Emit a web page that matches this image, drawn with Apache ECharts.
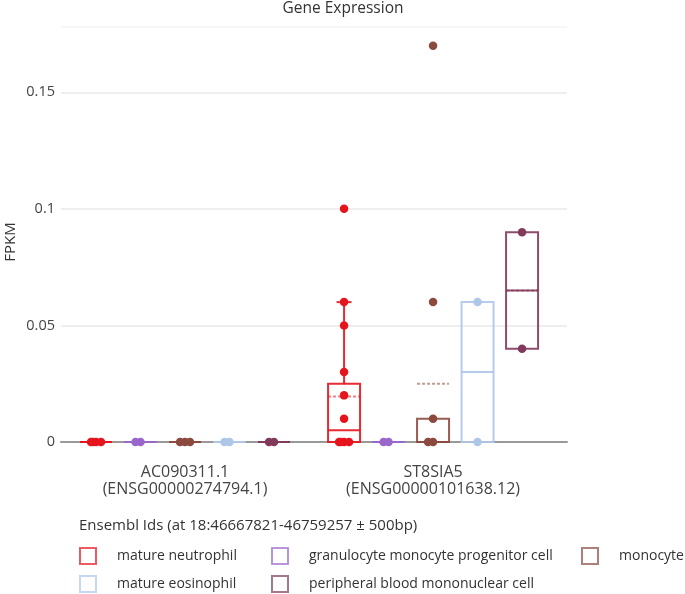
<!DOCTYPE html>
<html><head><meta charset="utf-8">
<script src="https://cdn.jsdelivr.net/npm/echarts@6/dist/echarts.min.js"></script>
<style>html,body{margin:0;padding:0;background:#fff}#c{width:685px;height:594px}</style>
</head><body><div id="c"></div>
<script>
// ---------- data ----------
const geneLabels = ['AC090311.1\n(ENSG00000274794.1)', 'ST8SIA5\n(ENSG00000101638.12)'];
const cellTypes = ['mature neutrophil', 'granulocyte monocyte progenitor cell', 'monocyte', 'mature eosinophil', 'peripheral blood mononuclear cell'];
const legendTitle = 'Ensembl Ids (at 18:46667821-46759257 \u00b1 500bp)';
const yAxisTitle = 'FPKM';
const yTicks = [0, 0.05, 0.1, 0.15];

// box stats per gene: [lowWhisker, q1, median, q3, highWhisker]
const neutrophilBox = [[0, 0, 0, 0, 0], [0, 0, 0.005, 0.025, 0.06]];
const gmpBox        = [[0, 0, 0, 0, 0], [0, 0, 0, 0, 0]];
const monocyteBox   = [[0, 0, 0, 0, 0], [0, 0, 0, 0.01, 0.01]];
const eosinophilBox = [[0, 0, 0, 0, 0], [0, 0, 0.03, 0.06, 0.06]];
const pbmcBox       = [[0, 0, 0, 0, 0], [0.04, 0.04, 0.065, 0.09, 0.09]];

// means per gene
const neutrophilMean = [0, 0.0195];
const gmpMean        = [0, 0];
const monocyteMean   = [0, 0.025];
const eosinophilMean = [0, 0.03];
const pbmcMean       = [0, 0.065];

// individual samples per gene
const neutrophilPoints = [[0, 0, 0, 0], [0, 0, 0, 0, 0.01, 0.02, 0.03, 0.05, 0.06, 0.1]];
const gmpPoints        = [[0, 0], [0, 0]];
const monocytePoints   = [[0, 0, 0], [0, 0, 0.01, 0.06, 0.17]];
const eosinophilPoints = [[0, 0], [0, 0.06]];
const pbmcPoints       = [[0, 0], [0.09, 0.04]];

const boxes  = [neutrophilBox, gmpBox, monocyteBox, eosinophilBox, pbmcBox];
const means  = [neutrophilMean, gmpMean, monocyteMean, eosinophilMean, pbmcMean];
const points = [neutrophilPoints, gmpPoints, monocytePoints, eosinophilPoints, pbmcPoints];

// ---------- style ----------
const colors = ['#e6141c', '#9966cc', '#8c4a3e', '#aec7e8', '#823a5c'];
const FONT = 'Open Sans';
const X_MIN = -0.5, X_MAX = 1.54;
const GRID = {left: 61, right: 118, top: 27, bottom: 152, outerBoundsMode: 'none', containLabel: false};
const SLOT_PX = 44.5, BOX_W = 32, CAP_W = 15;

const chart = echarts.init(document.getElementById('c'));
const pxPerUnit = (685 - GRID.left - GRID.right) / (X_MAX - X_MIN);
const slot = SLOT_PX / pxPerUnit;

function fade(hex, a) {
  const n = parseInt(hex.slice(1), 16);
  return 'rgba(' + (n >> 16) + ',' + ((n >> 8) & 255) + ',' + (n & 255) + ',' + a + ')';
}

function renderBox(params, api) {
  const x = api.value(0);
  const low = api.coord([x, api.value(1)]);
  const q1 = api.coord([x, api.value(2)]);
  const med = api.coord([x, api.value(3)]);
  const q3 = api.coord([x, api.value(4)]);
  const high = api.coord([x, api.value(5)]);
  const mean = api.coord([x, api.value(6)]);
  const cx = low[0], hw = BOX_W / 2, cw = CAP_W / 2;
  const c = colors[params.seriesIndex];
  const st = {stroke: fade(c, 0.9), lineWidth: 2, fill: 'rgba(0,0,0,0)'};
  const kids = [];
  if (high[1] < q3[1] - 0.5) {
    kids.push({type: 'line', shape: {x1: cx, y1: q3[1], x2: cx, y2: high[1]}, style: st});
    kids.push({type: 'line', shape: {x1: cx - cw, y1: high[1], x2: cx + cw, y2: high[1]}, style: st});
  }
  if (low[1] > q1[1] + 0.5) {
    kids.push({type: 'line', shape: {x1: cx, y1: q1[1], x2: cx, y2: low[1]}, style: st});
    kids.push({type: 'line', shape: {x1: cx - cw, y1: low[1], x2: cx + cw, y2: low[1]}, style: st});
  }
  kids.push({type: 'line', shape: {x1: cx - hw, y1: mean[1], x2: cx + hw, y2: mean[1]},
    style: {stroke: fade(c, 0.55), lineWidth: 2, lineDash: [3, 2]}});
  kids.push({type: 'rect', shape: {x: cx - hw, y: q3[1], width: BOX_W, height: q1[1] - q3[1]}, style: st});
  kids.push({type: 'line', shape: {x1: cx - hw, y1: med[1], x2: cx + hw, y2: med[1]}, style: st});
  return {type: 'group', children: kids};
}

const series = [];
cellTypes.forEach(function (name, s) {
  const data = boxes[s].map(function (b, g) {
    return [g + (s - 2) * slot, b[0], b[1], b[2], b[3], b[4], means[s][g]];
  });
  series.push({
    type: 'custom', name: name, renderItem: renderBox, data: data, z: 2,
    itemStyle: {color: colors[s]},
    encode: {x: 0, y: [1, 2, 3, 4, 5, 6]}
  });
});
const jitterPattern = [0, -5, 5, -3, 3, -7, 7];
cellTypes.forEach(function (name, s) {
  const data = [];
  points[s].forEach(function (vals, g) {
    const seen = {};
    vals.forEach(function (v) {
      const k = String(v);
      const n = seen[k] || 0;
      seen[k] = n + 1;
      const j = jitterPattern[n % jitterPattern.length] / pxPerUnit;
      data.push([g + (s - 2) * slot + j, v]);
    });
  });
  series.push({
    type: 'scatter', name: name, data: data, z: 3, symbol: 'circle', symbolSize: 8.5,
    itemStyle: {color: colors[s], opacity: 1}
  });
});

function legendCol(left, names) {
  return {
    left: left, top: 547, orient: 'vertical', itemGap: 10, itemWidth: 16, itemHeight: 16,
    padding: 0, height: 47, selectedMode: false,
    textStyle: {fontFamily: FONT, fontSize: 14, color: '#333', padding: [0, 0, 0, 16]},
    data: names.map(function (n) {
      const c = colors[cellTypes.indexOf(n)];
      return {name: n, icon: 'rect', itemStyle: {color: '#fff', borderColor: fade(c, 0.7), borderWidth: 2}};
    })
  };
}

chart.setOption({
  animation: false,
  backgroundColor: '#fff',
  title: [
    {text: 'Gene Expression', left: 338, top: -4, textAlign: 'center',
      textStyle: {fontFamily: FONT, fontSize: 15.5, fontWeight: 'normal', color: '#333'}},
    {text: legendTitle, left: 74, top: 513,
      textStyle: {fontFamily: FONT, fontSize: 15, fontWeight: 'normal', color: '#333'}}
  ],
  graphic: [{
    type: 'text', x: 11, y: 242, rotation: Math.PI / 2,
    style: {text: yAxisTitle, align: 'center', verticalAlign: 'middle',
      font: '15px "Open Sans"', fill: '#333'}
  }],
  legend: [
    legendCol(79, [cellTypes[0], cellTypes[3]]),
    legendCol(271, [cellTypes[1], cellTypes[4]]),
    legendCol(581, [cellTypes[2]])
  ],
  grid: GRID,
  xAxis: {
    type: 'value', min: X_MIN, max: X_MAX,
    axisLine: {show: true, lineStyle: {color: '#999', width: 2}},
    axisTick: {show: false},
    splitLine: {show: false},
    axisLabel: {
      customValues: [0, 1], margin: 22, lineHeight: 17,
      fontFamily: FONT, fontSize: 16, color: '#444',
      formatter: function (v) { return geneLabels[Math.round(v)]; }
    }
  },
  yAxis: {
    type: 'value', min: 0, max: 0.178, interval: 0.05,
    axisLine: {show: false}, axisTick: {show: false},
    splitLine: {lineStyle: {color: ['#eee', '#eee', '#eee', '#eee', '#f7f7f7'], width: 2}},
    axisLabel: {showMaxLabel: false, margin: 6, fontFamily: FONT, fontSize: 14.5, color: '#444',
      formatter: function (v) { return yTicks.indexOf(v) >= 0 ? String(v) : ''; }}
  },
  series: series
});
</script></body></html>
